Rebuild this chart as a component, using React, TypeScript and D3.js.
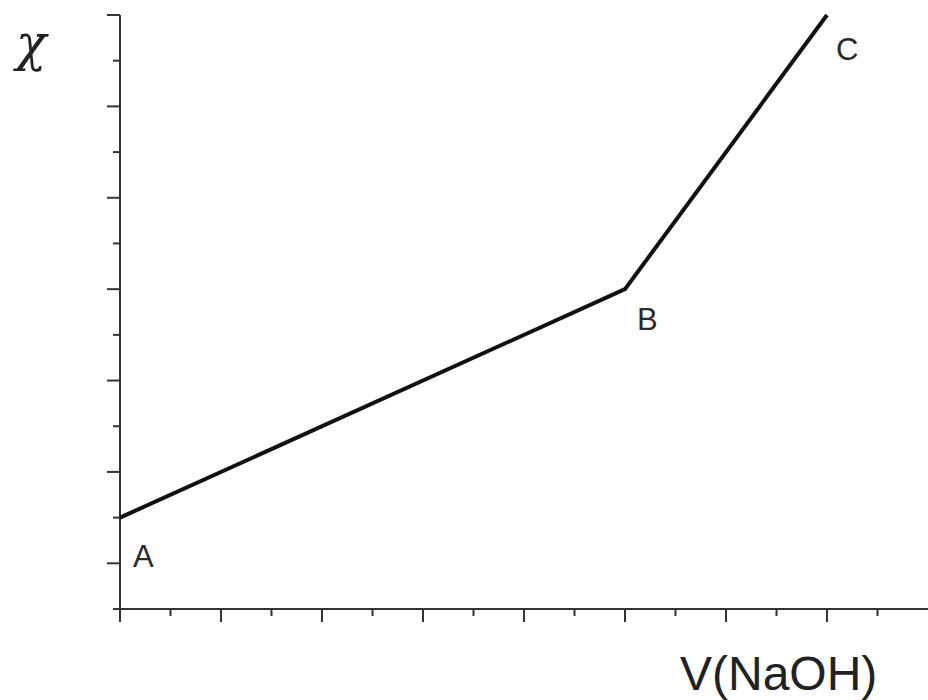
import React from "react";
import * as d3 from "d3";

const xValues = [0, 5, 7];
const yValues = [1.5, 4, 7];
const pointLabels = ["A", "B", "C"];
const xMajorTicks = [0, 1, 2, 3, 4, 5, 6, 7];
const xMinorTicks = [0.5, 1.5, 2.5, 3.5, 4.5, 5.5, 6.5, 7.5];
const yMajorTicks = [1, 2, 3, 4, 5, 6, 7];
const yMinorTicks = [1.5, 2.5, 3.5, 4.5, 5.5, 6.5];
const yAxisLabel = "χ";
const xAxisLabel = "V(NaOH)";

export default function App() {
  const W = 928, H = 700;
  const x = d3.scaleLinear().domain([0, 8]).range([120, 928]);
  const y = d3.scaleLinear().domain([0.5, 7]).range([609, 15]);
  const pts = xValues.map((v, i) => [x(v), y(yValues[i])] as [number, number]);
  const line = d3.line()(pts) || "";
  const labelOffsets = [
    { dx: 13, dy: 49 },
    { dx: 12, dy: 41 },
    { dx: 9, dy: 45 },
  ];
  const axisColor = "#333";
  return (
    <svg width={W} height={H} style={{ position: "absolute", left: 0, top: 0, background: "#fff" }}>
      {/* axes */}
      <line x1={x(0)} x2={x(0)} y1={y(7)} y2={622} stroke={axisColor} strokeWidth={2} />
      <line x1={113} x2={928} y1={y(0.5)} y2={y(0.5)} stroke={axisColor} strokeWidth={2} />
      {yMajorTicks.map((t) => (
        <line key={"ym" + t} x1={107} x2={x(0)} y1={y(t)} y2={y(t)} stroke={axisColor} strokeWidth={2} />
      ))}
      {yMinorTicks.map((t) => (
        <line key={"yn" + t} x1={113} x2={x(0)} y1={y(t)} y2={y(t)} stroke={axisColor} strokeWidth={2} />
      ))}
      {xMajorTicks.map((t) => (
        <line key={"xm" + t} x1={x(t)} x2={x(t)} y1={y(0.5)} y2={622} stroke={axisColor} strokeWidth={2} />
      ))}
      {xMinorTicks.map((t) => (
        <line key={"xn" + t} x1={x(t)} x2={x(t)} y1={y(0.5)} y2={616} stroke={axisColor} strokeWidth={2} />
      ))}
      {/* data line */}
      <path d={line} fill="none" stroke="#111" strokeWidth={4} strokeLinejoin="miter" />
      {pts.map((p, i) => (
        <text
          key={pointLabels[i]}
          x={p[0] + labelOffsets[i].dx}
          y={p[1] + labelOffsets[i].dy}
          fontFamily="Liberation Sans, Arial, sans-serif"
          fontSize={31}
          fill="#2a2a2a"
        >
          {pointLabels[i]}
        </text>
      ))}
      <text x={16} y={60} fontFamily="DejaVu Serif, serif" fontStyle="italic" fontSize={50} fill="#222">
        {yAxisLabel}
      </text>
      <text x={680} y={690} fontFamily="Liberation Sans, Arial, sans-serif" fontSize={48} fill="#222">
        {xAxisLabel}
      </text>
    </svg>
  );
}
